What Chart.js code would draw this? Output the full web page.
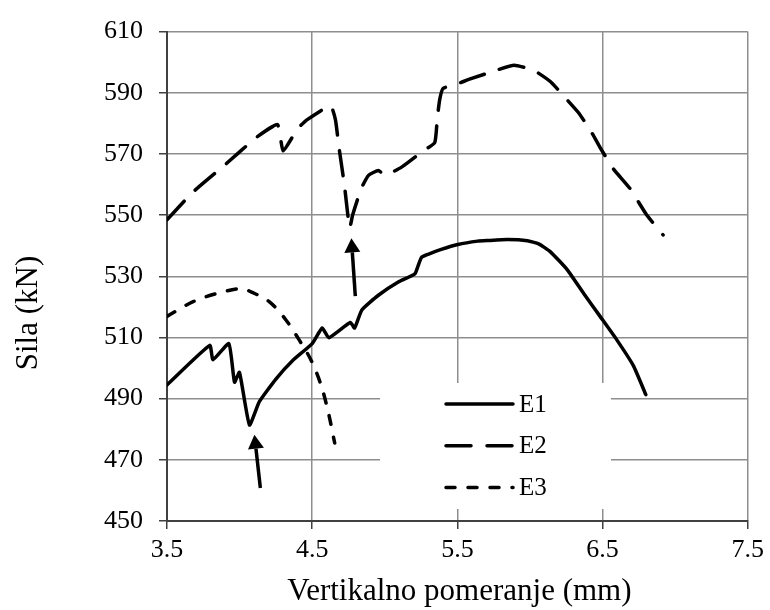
<!DOCTYPE html>
<html>
<head>
<meta charset="utf-8">
<script src="https://cdn.jsdelivr.net/npm/chart.js@4.4.1/dist/chart.umd.min.js"></script>
<style>
  body { margin: 0; background: #fff; }
  #wrap { width: 770px; height: 610px; }
</style>
</head>
<body>
<div id="wrap"><canvas id="chart" width="770" height="610"></canvas></div>
<script>
const xTicks = [3.5, 4.5, 5.5, 6.5, 7.5];
const yTicks = [450, 470, 490, 510, 530, 550, 570, 590, 610];

const seriesNames = ['E1', 'E2', 'E3'];
const xTitle = 'Vertikalno pomeranje (mm)';
const yTitle = 'Sila (kN)';

// E1 - solid
const e1X = [3.5, 3.794, 3.817, 3.926, 3.965, 3.999, 4.068, 4.136, 4.25, 4.364, 4.5, 4.569, 4.615, 4.763, 4.792,
  4.842, 4.956, 5.093, 5.207, 5.23, 5.253, 5.298, 5.389, 5.503, 5.64, 5.709, 5.845, 5.982, 6.06, 6.141, 6.256,
  6.37, 6.483, 6.597, 6.712, 6.798];
const e1Y = [494.5, 507.4, 502.7, 508.0, 495.4, 498.6, 481.4, 489.0, 496.4, 502.4, 508.0, 513.1, 509.9, 514.9, 513.1,
  519.0, 523.8, 528.1, 530.8, 533.5, 536.2, 537.2, 538.8, 540.4, 541.5, 541.7, 542.0, 541.6, 540.6, 538.0, 532.2,
  524.4, 516.9, 509.3, 500.8, 491.3];

// E2 - long dash
const e2X = [3.5, 3.68, 3.908, 4.113, 4.261, 4.3, 4.398, 4.466, 4.626, 4.66, 4.683, 4.722, 4.758, 4.779, 4.838,
  4.888, 4.956, 5.002, 5.116, 5.264, 5.344, 5.362, 5.378, 5.401, 5.503, 5.594, 5.777, 5.891, 6.028, 6.142, 6.256,
  6.336, 6.426, 6.483, 6.575, 6.689, 6.803, 6.917];
const e2Y = [548.5, 557.6, 566.8, 575.3, 579.6, 571.0, 578.2, 581.2, 585.8, 581.2, 572.7, 559.8, 545.8, 550.1, 558.7,
  563.0, 564.6, 563.0, 565.7, 571.0, 573.7, 581.8, 587.7, 591.4, 593.0, 594.6, 597.5, 599.0, 597.3, 593.6, 587.7,
  583.4, 576.9, 572.1, 565.1, 558.7, 550.1, 543.5];

// E3 - short dash
const e3X = [3.5, 3.68, 3.885, 4.022, 4.079, 4.204, 4.318, 4.409, 4.5, 4.569, 4.615, 4.655];
const e3Y = [516.9, 521.7, 524.9, 526.0, 524.9, 521.7, 515.8, 509.3, 501.8, 493.2, 484.7, 475.5];

// arrows (tail -> tip) in data units
const arrowFrom = [[4.143, 460.8], [4.797, 523.5]];
const arrowTo = [[4.102, 478.2], [4.770, 542.4]];

const toPts = (xs, ys) => xs.map((x, i) => ({ x: x, y: ys[i] }));
const FONT = "'Liberation Serif', 'Times New Roman', serif";

const extras = {
  id: 'extras',
  afterDraw(chart) {
    const ctx = chart.ctx;
    const xs = chart.scales.x, ys = chart.scales.y;
    const area = chart.chartArea;
    ctx.save();

    // legend box inside plot
    ctx.fillStyle = '#fff';
    ctx.fillRect(380, 383, 231, 126);
    chart.data.datasets.forEach((ds, i) => {
      const yy = 404 + i * 41.7;
      ctx.strokeStyle = '#000';
      ctx.lineWidth = ds.borderWidth;
      ctx.lineCap = 'round';
      ctx.setLineDash(ds.borderDash || []);
      ctx.beginPath();
      ctx.moveTo(446, yy);
      ctx.lineTo(513, yy);
      ctx.stroke();
      ctx.setLineDash([]);
      ctx.fillStyle = '#000';
      ctx.font = '25px ' + FONT;
      ctx.textAlign = 'left';
      ctx.textBaseline = 'middle';
      ctx.fillText(ds.label, 519, yy + 1);
    });

    // arrows
    arrowFrom.forEach((f, i) => {
      const x0 = xs.getPixelForValue(f[0]), y0 = ys.getPixelForValue(f[1]);
      const x1 = xs.getPixelForValue(arrowTo[i][0]), y1 = ys.getPixelForValue(arrowTo[i][1]);
      const ang = Math.atan2(y1 - y0, x1 - x0);
      const hl = 14, hw = 8;
      const bx = x1 - hl * Math.cos(ang), by = y1 - hl * Math.sin(ang);
      ctx.strokeStyle = '#000';
      ctx.lineWidth = 3.5;
      ctx.lineCap = 'butt';
      ctx.beginPath();
      ctx.moveTo(x0, y0);
      ctx.lineTo(bx, by);
      ctx.stroke();
      ctx.fillStyle = '#000';
      ctx.beginPath();
      ctx.moveTo(x1, y1);
      ctx.lineTo(bx + hw * Math.sin(ang), by - hw * Math.cos(ang));
      ctx.lineTo(bx - hw * Math.sin(ang), by + hw * Math.cos(ang));
      ctx.closePath();
      ctx.fill();
    });

    // axis titles
    ctx.fillStyle = '#000';
    ctx.font = '31px ' + FONT;
    ctx.textAlign = 'center';
    ctx.textBaseline = 'alphabetic';
    ctx.fillText(xTitle, (area.left + area.right) / 2 + 2, 600);
    ctx.translate(37, 313);
    ctx.rotate(-Math.PI / 2);
    ctx.fillText(yTitle, 0, 0);
    ctx.restore();
  }
};

const lineBase = {
  borderColor: '#000',
  borderWidth: 3.5,
  pointRadius: 0,
  fill: false,
  tension: 0.15,
  borderCapStyle: 'round',
  borderJoinStyle: 'round',
  showLine: true
};

new Chart(document.getElementById('chart'), {
  type: 'scatter',
  data: {
    datasets: [
      Object.assign({}, lineBase, { label: seriesNames[0], data: toPts(e1X, e1Y) }),
      Object.assign({}, lineBase, { label: seriesNames[1], data: toPts(e2X, e2Y), borderDash: [25, 16] }),
      Object.assign({}, lineBase, { label: seriesNames[2], data: toPts(e3X, e3Y), borderDash: [9, 13], cubicInterpolationMode: 'monotone' })
    ]
  },
  options: {
    responsive: false,
    animation: false,
    layout: { padding: { left: 0, right: 18, top: 24, bottom: 0 } },
    plugins: { legend: { display: false }, tooltip: { enabled: false } },
    scales: {
      x: {
        type: 'linear',
        min: 3.5, max: 7.5,
        afterBuildTicks: s => { s.ticks = xTicks.map(v => ({ value: v })); },
        afterFit: s => { s.height = 89; },
        grid: { color: '#8e8e8e', lineWidth: 1.5, tickLength: 8, tickColor: '#404040' },
        border: { color: '#404040', width: 2 },
        ticks: { color: '#000', font: { family: FONT, size: 26 }, padding: 6, maxRotation: 0,
          callback: v => v.toFixed(1) }
      },
      y: {
        type: 'linear',
        min: 450, max: 610,
        afterBuildTicks: s => { s.ticks = yTicks.map(v => ({ value: v })); },
        afterFit: s => { s.width = 167; },
        grid: { color: '#8e8e8e', lineWidth: 1.5, tickLength: 8, tickColor: '#404040' },
        border: { color: '#404040', width: 2 },
        ticks: { color: '#000', font: { family: FONT, size: 26 }, padding: 16 }
      }
    }
  },
  plugins: [extras]
});
</script>
</body>
</html>
